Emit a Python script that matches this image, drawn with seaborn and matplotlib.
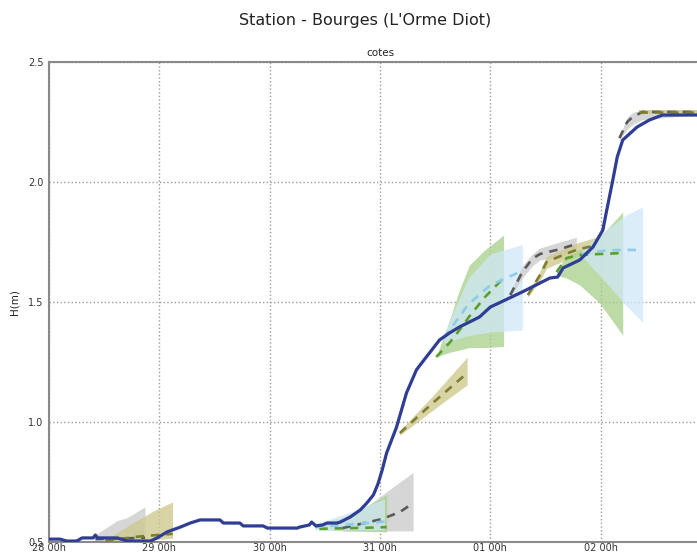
import matplotlib
matplotlib.use("Agg")
import matplotlib.pyplot as plt
import seaborn as sns
import numpy as np
import pandas as pd

# --- observed water level (days since 28 00h, metres) ---
obs_t = [0.00, 0.10, 0.16, 0.25, 0.30, 0.40, 0.42, 0.44, 0.62, 0.71, 0.92, 0.98,
         1.07, 1.19, 1.28, 1.37, 1.55, 1.58, 1.73, 1.76, 1.94, 1.98, 2.25, 2.27,
         2.36, 2.38, 2.42, 2.48, 2.52, 2.61, 2.64, 2.73, 2.82, 2.88, 2.94, 2.98,
         3.02, 3.06, 3.15, 3.24, 3.33, 3.42, 3.54, 3.63, 3.72, 3.90, 4.00, 4.29,
         4.54, 4.61, 4.66, 4.81, 4.93, 5.02, 5.05, 5.11, 5.15, 5.20, 5.33, 5.44,
         5.56, 5.87, 5.99]
obs_h = [0.512, 0.512, 0.504, 0.504, 0.517, 0.517, 0.529, 0.517, 0.517, 0.504, 0.504, 0.517,
         0.542, 0.562, 0.579, 0.592, 0.592, 0.579, 0.579, 0.567, 0.567, 0.558, 0.558, 0.562,
         0.571, 0.583, 0.567, 0.571, 0.579, 0.579, 0.583, 0.604, 0.633, 0.662, 0.696, 0.740,
         0.800, 0.871, 0.979, 1.121, 1.217, 1.271, 1.342, 1.371, 1.396, 1.437, 1.479, 1.542,
         1.600, 1.604, 1.642, 1.675, 1.729, 1.800, 1.871, 2.008, 2.104, 2.175, 2.229, 2.258,
         2.279, 2.279, 2.267]

# --- forecast runs: time, median, lower and upper bound ---
grey1_t = [0.42, 0.62, 0.70, 0.87]
grey1_m = [0.512, 0.515, 0.515, 0.518]
grey1_lo = [0.505, 0.505, 0.505, 0.505]
grey1_hi = [0.530, 0.590, 0.600, 0.646]

olive1_t = [0.51, 0.80, 0.95, 1.12]
olive1_m = [0.505, 0.522, 0.528, 0.534]
olive1_lo = [0.503, 0.505, 0.510, 0.515]
olive1_hi = [0.510, 0.590, 0.630, 0.667]

blue1_t = [2.41, 2.70, 3.04]
blue1_m = [0.562, 0.572, 0.585]
blue1_lo = [0.550, 0.550, 0.550]
blue1_hi = [0.575, 0.620, 0.680]

green1_t = [2.45, 2.64, 2.85, 3.06]
green1_m = [0.555, 0.557, 0.559, 0.562]
green1_lo = [0.550, 0.548, 0.545, 0.542]
green1_hi = [0.579, 0.600, 0.642, 0.696]

grey2_t = [2.66, 3.02, 3.18, 3.30]
grey2_m = [0.558, 0.596, 0.625, 0.662]
grey2_lo = [0.545, 0.546, 0.546, 0.546]
grey2_hi = [0.570, 0.696, 0.750, 0.790]

olive2_t = [3.18, 3.48, 3.79]
olive2_m = [0.954, 1.080, 1.204]
olive2_lo = [0.945, 1.050, 1.155]
olive2_hi = [0.965, 1.110, 1.270]

green2_t = [3.51, 3.63, 3.72, 3.81, 3.95, 4.12]
green2_m = [1.271, 1.330, 1.383, 1.440, 1.520, 1.600]
green2_lo = [1.271, 1.290, 1.300, 1.310, 1.310, 1.315]
green2_hi = [1.271, 1.425, 1.550, 1.654, 1.717, 1.779]

blue2_t = [3.58, 3.80, 4.00, 4.29]
blue2_m = [1.350, 1.490, 1.570, 1.630]
blue2_lo = [1.330, 1.360, 1.375, 1.383]
blue2_hi = [1.370, 1.600, 1.700, 1.740]

grey3_t = [4.18, 4.29, 4.38, 4.45, 4.63, 4.78]
grey3_m = [1.529, 1.625, 1.680, 1.700, 1.720, 1.742]
grey3_lo = [1.520, 1.600, 1.650, 1.675, 1.690, 1.715]
grey3_hi = [1.540, 1.650, 1.700, 1.725, 1.750, 1.770]

olive3_t = [4.34, 4.45, 4.51, 4.66, 4.78, 4.96]
olive3_m = [1.529, 1.612, 1.667, 1.696, 1.717, 1.737]
olive3_lo = [1.520, 1.590, 1.640, 1.670, 1.690, 1.705]
olive3_hi = [1.540, 1.630, 1.690, 1.720, 1.745, 1.770]

green3_t = [4.60, 4.69, 4.81, 4.99, 5.20]
green3_m = [1.625, 1.683, 1.696, 1.700, 1.704]
green3_lo = [1.612, 1.600, 1.571, 1.496, 1.362]
green3_hi = [1.633, 1.690, 1.717, 1.770, 1.875]

blue3_t = [4.83, 5.05, 5.22, 5.38]
blue3_m = [1.700, 1.715, 1.717, 1.717]
blue3_lo = [1.690, 1.580, 1.490, 1.415]
blue3_hi = [1.720, 1.800, 1.860, 1.896]

grey4_t = [5.17, 5.24, 5.29, 5.38, 5.99]
grey4_m = [2.183, 2.250, 2.271, 2.292, 2.292]
grey4_lo = [2.175, 2.220, 2.240, 2.260, 2.285]
grey4_hi = [2.190, 2.270, 2.290, 2.300, 2.300]

olive4_t = [5.35, 5.60, 5.99]
olive4_m = [2.290, 2.290, 2.290]
olive4_lo = [2.282, 2.282, 2.282]
olive4_hi = [2.298, 2.298, 2.298]

tick_pos = [0, 1, 2, 3, 4, 5]
tick_lab = ["28 00h", "29 00h", "30 00h", "31 00h", "01 00h", "02 00h"]
ytick_pos = [0.5, 1.0, 1.5, 2.0, 2.5]
ytick_lab = ["0.5", "1.0", "1.5", "2.0", "2.5"]

sns.set_style("white")
plt.rcParams["font.family"] = ["DejaVu Sans"]

fig = plt.figure(figsize=(6.97, 5.56), dpi=100)
ax = fig.add_axes([49 / 697, 14 / 556, 662 / 697, 480 / 556])

styles = {
    "grey": dict(band="#cfcfcf", band_alpha=0.85, line="#5a5a5a"),
    "olive": dict(band="#cdc88c", band_alpha=0.78, line="#7f7d30"),
    "green": dict(band="#a9d18e", band_alpha=0.78, line="#5b9e2e"),
    "blue": dict(band="#cfe8f6", band_alpha=0.75, line="#8ecbe9"),
}

runs = [
    ("grey", grey1_t, grey1_m, grey1_lo, grey1_hi),
    ("olive", olive1_t, olive1_m, olive1_lo, olive1_hi),
    ("grey", grey2_t, grey2_m, grey2_lo, grey2_hi),
    ("green", green1_t, green1_m, green1_lo, green1_hi),
    ("blue", blue1_t, blue1_m, blue1_lo, blue1_hi),
    ("olive", olive2_t, olive2_m, olive2_lo, olive2_hi),
    ("green", green2_t, green2_m, green2_lo, green2_hi),
    ("blue", blue2_t, blue2_m, blue2_lo, blue2_hi),
    ("grey", grey3_t, grey3_m, grey3_lo, grey3_hi),
    ("olive", olive3_t, olive3_m, olive3_lo, olive3_hi),
    ("green", green3_t, green3_m, green3_lo, green3_hi),
    ("blue", blue3_t, blue3_m, blue3_lo, blue3_hi),
    ("grey", grey4_t, grey4_m, grey4_lo, grey4_hi),
    ("olive", olive4_t, olive4_m, olive4_lo, olive4_hi),
]

# uncertainty bands first, medians on top
for kind, t, m, lo, hi in runs:
    st = styles[kind]
    ax.fill_between(t, lo, hi, color=st["band"], alpha=st["band_alpha"], lw=0, zorder=1)

for kind, t, m, lo, hi in runs:
    st = styles[kind]
    df = pd.DataFrame({"t": t, "h": m})
    sns.lineplot(data=df, x="t", y="h", ax=ax, color=st["line"], lw=1.9,
                 zorder=3, estimator=None, sort=False)
    ax.lines[-1].set_dashes((3.2, 2.6))

obs = pd.DataFrame({"t": obs_t, "h": obs_h})
sns.lineplot(data=obs, x="t", y="h", ax=ax, color="#2f3d94", lw=2.3,
             estimator=None, sort=False, zorder=4)

ax.set_xlim(0, 6)
ax.set_ylim(0.5, 2.5)
ax.set_xticks(tick_pos)
ax.set_xticklabels(tick_lab)
ax.set_yticks(ytick_pos)
ax.set_yticklabels(ytick_lab)
ax.tick_params(axis="y", length=0, labelsize=7, labelcolor="#333333", pad=4)
ax.tick_params(axis="x", length=0, labelsize=7, labelcolor="#333333", pad=1)
ax.grid(True, linestyle=":", color="#9a9a9a", lw=1.0)
for s in ax.spines.values():
    s.set_color("#8a8a8a")
    s.set_linewidth(1.5)

ax.set_xlabel("")
ax.set_ylabel("H(m)", fontsize=7.5, color="#222222", labelpad=6)
ax.set_title("cotes", fontsize=7.5, color="#222222", pad=4)
fig.text(365 / 697, 1 - 20 / 556, "Station - Bourges (L'Orme Diot)",
         ha="center", va="center", fontsize=11.5, color="#222222")

fig.savefig("out.png", dpi=100)
